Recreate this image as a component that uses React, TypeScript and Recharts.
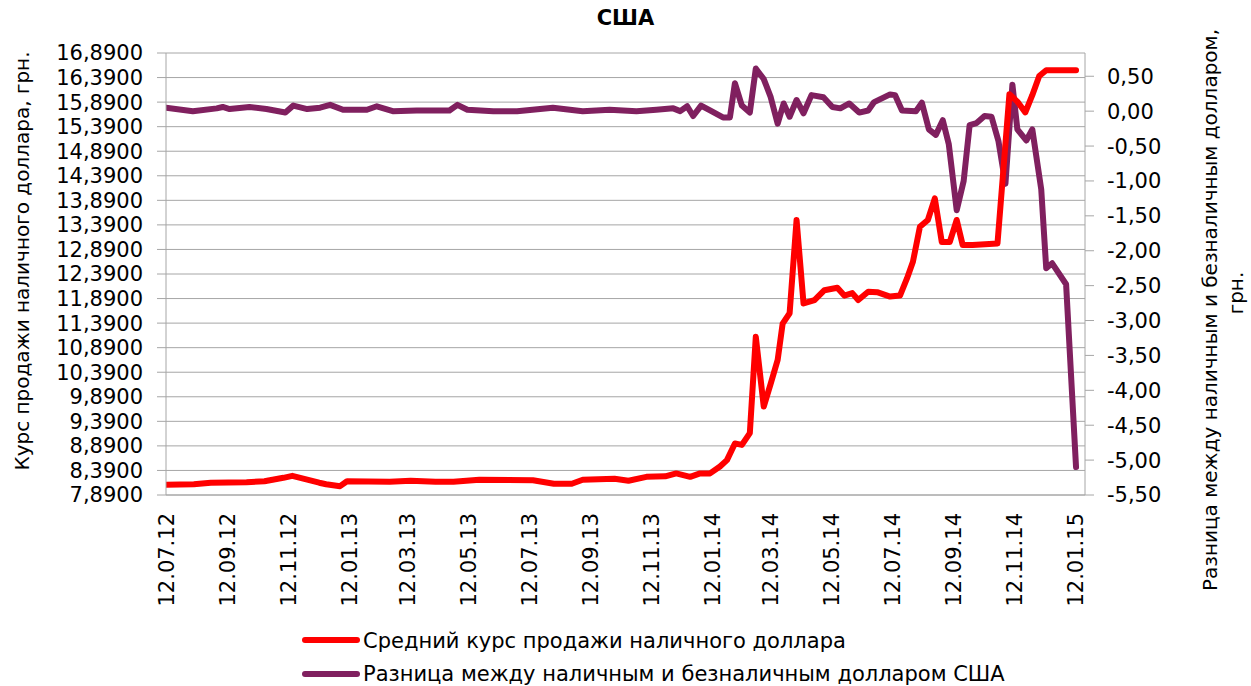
import React from 'react';
import { LineChart, Line, XAxis, YAxis, CartesianGrid, Legend } from 'recharts';

const FONT = "'DejaVu Sans', sans-serif";
const RED = '#FF0000';
const PURPLE = '#80205F';
const GRID = '#A6A6A6';

const chartTitle = 'США';
const leftAxisTitle = 'Курс продажи наличного доллара, грн.';
const rightAxisTitle1 = 'Разница между наличным и безналичным долларом,';
const rightAxisTitle2 = 'грн.';
const redName = 'Средний курс продажи наличного доллара';
const purpleName = 'Разница между наличным и безналичным долларом США';

const xTickLabels = [
  '12.07.12', '12.09.12', '12.11.12', '12.01.13', '12.03.13', '12.05.13', '12.07.13', '12.09.13',
  '12.11.13', '12.01.14', '12.03.14', '12.05.14', '12.07.14', '12.09.14', '12.11.14', '12.01.15',
];
const leftTicks = [7.89, 8.39, 8.89, 9.39, 9.89, 10.39, 10.89, 11.39, 11.89, 12.39, 12.89, 13.39, 13.89, 14.39, 14.89, 15.39, 15.89, 16.39, 16.89];
const rightTicks = [-5.5, -5, -4.5, -4, -3.5, -3, -2.5, -2, -1.5, -1, -0.5, 0, 0.5];

const redDates = [
  '2012-07-12', '2012-08-09', '2012-08-26', '2012-10-01', '2012-10-19', '2012-11-07', '2012-11-16', '2012-11-28',
  '2012-12-13', '2012-12-20', '2013-01-03', '2013-01-10', '2013-02-22', '2013-03-15', '2013-04-09', '2013-04-27',
  '2013-05-23', '2013-07-16', '2013-08-06', '2013-08-24', '2013-09-04', '2013-10-06', '2013-10-20', '2013-11-07',
  '2013-11-26', '2013-12-07', '2013-12-21', '2013-12-31', '2014-01-10', '2014-01-20', '2014-01-27', '2014-02-04',
  '2014-02-11', '2014-02-19', '2014-02-25', '2014-03-05', '2014-03-12', '2014-03-19', '2014-03-24', '2014-03-31',
  '2014-04-07', '2014-04-14', '2014-04-25', '2014-05-05', '2014-05-18', '2014-05-25', '2014-06-02', '2014-06-08',
  '2014-06-18', '2014-06-27', '2014-07-10', '2014-07-20', '2014-07-27', '2014-08-02', '2014-08-09', '2014-08-17',
  '2014-08-24', '2014-08-31', '2014-09-08', '2014-09-15', '2014-09-21', '2014-10-01', '2014-10-26', '2014-11-07',
  '2014-11-15', '2014-11-23', '2014-11-30', '2014-12-07', '2014-12-14', '2015-01-13',
];
const redValues = [
  8.10, 8.11, 8.14, 8.15, 8.17, 8.24, 8.28, 8.22,
  8.14, 8.11, 8.07, 8.17, 8.16, 8.18, 8.16, 8.16,
  8.20, 8.19, 8.12, 8.12, 8.20, 8.22, 8.18, 8.26,
  8.27, 8.33, 8.26, 8.33, 8.33, 8.47, 8.60, 8.94,
  8.91, 9.15, 11.11, 9.69, 10.16, 10.64, 11.38, 11.59,
  13.49, 11.79, 11.86, 12.06, 12.11, 11.95, 12.00, 11.86,
  12.03, 12.02, 11.93, 11.95, 12.30, 12.64, 13.35, 13.49,
  13.93, 13.04, 13.04, 13.49, 12.98, 12.98, 13.01, 16.05,
  15.90, 15.68, 16.03, 16.42, 16.54, 16.54,
];

const purpleDates = [
  '2012-07-12', '2012-08-08', '2012-09-01', '2012-09-07', '2012-09-14', '2012-10-04', '2012-10-21', '2012-11-09',
  '2012-11-17', '2012-12-01', '2012-12-14', '2012-12-24', '2013-01-06', '2013-01-30', '2013-02-09', '2013-02-25',
  '2013-03-21', '2013-04-23', '2013-05-01', '2013-05-11', '2013-06-06', '2013-06-30', '2013-08-05', '2013-09-04',
  '2013-10-01', '2013-10-28', '2013-11-17', '2013-12-04', '2013-12-11', '2013-12-18', '2013-12-24', '2014-01-01',
  '2014-01-10', '2014-01-23', '2014-01-30', '2014-02-04', '2014-02-11', '2014-02-19', '2014-02-25', '2014-03-05',
  '2014-03-12', '2014-03-19', '2014-03-25', '2014-03-31', '2014-04-07', '2014-04-14', '2014-04-22', '2014-05-04',
  '2014-05-13', '2014-05-21', '2014-05-30', '2014-06-09', '2014-06-18', '2014-06-24', '2014-07-10', '2014-07-15',
  '2014-07-22', '2014-08-05', '2014-08-11', '2014-08-18', '2014-08-25', '2014-09-01', '2014-09-07', '2014-09-15',
  '2014-09-22', '2014-09-28', '2014-10-05', '2014-10-13', '2014-10-20', '2014-10-27', '2014-11-03', '2014-11-10',
  '2014-11-15', '2014-11-24', '2014-11-30', '2014-12-09', '2014-12-14', '2014-12-20', '2015-01-03', '2015-01-13',
];
const purpleValues = [
  0.05, 0.00, 0.04, 0.06, 0.03, 0.06, 0.03, -0.02,
  0.08, 0.03, 0.05, 0.09, 0.02, 0.02, 0.07, 0.00,
  0.01, 0.01, 0.09, 0.02, 0.00, 0.00, 0.05, 0.00,
  0.02, 0.00, 0.02, 0.04, 0.00, 0.07, -0.07, 0.08,
  0.01, -0.09, -0.09, 0.40, 0.08, -0.02, 0.61, 0.46,
  0.20, -0.18, 0.11, -0.08, 0.16, -0.03, 0.23, 0.20,
  0.06, 0.04, 0.11, -0.02, 0.01, 0.13, 0.24, 0.23,
  0.01, 0.00, 0.12, -0.26, -0.34, -0.13, -0.47, -1.42,
  -1.00, -0.20, -0.17, -0.07, -0.08, -0.43, -1.04, 0.38,
  -0.26, -0.42, -0.26, -1.12, -2.25, -2.18, -2.48, -5.10,
];

const DAY = 86400000;
const ORIGIN = Date.UTC(2012, 6, 12);
const isoToDay = (s: string) => {
  const [y, m, d] = s.split('-').map(Number);
  return Math.round((Date.UTC(y, m - 1, d) - ORIGIN) / DAY);
};
const labelToDay = (s: string) => {
  const [d, m, y] = s.split('.').map(Number);
  return Math.round((Date.UTC(2000 + y, m - 1, d) - ORIGIN) / DAY);
};

const redData = redDates.map((d, i) => ({ day: isoToDay(d), value: redValues[i] }));
const purpleData = purpleDates.map((d, i) => ({ day: isoToDay(d), value: purpleValues[i] }));
const xTicks = xTickLabels.map(labelToDay);
const X_MAX = 924;

const fmtLeft = (v: number) => v.toFixed(4).replace('.', ',');
const fmtRight = (v: number) => (Math.abs(v) < 1e-9 ? 0 : v).toFixed(2).replace('.', ',');

const XTick = (props: any) => {
  const { x, payload } = props;
  const idx = xTicks.indexOf(payload.value);
  const label = idx >= 0 ? xTickLabels[idx] : '';
  const y = 513;
  return (
    <text
      x={x}
      y={y}
      transform={`rotate(-90, ${x}, ${y})`}
      textAnchor="end"
      dy="0.36em"
      fill="#000"
      fontSize={21}
      fontFamily={FONT}
    >
      {label}
    </text>
  );
};

const LegendContent = () => (
  <svg width={1251} height={64} style={{ display: 'block' }}>
    <line x1={305} y1={18} x2={357} y2={18} stroke={RED} strokeWidth={6} strokeLinecap="round" />
    <text x={363} y={19} dominantBaseline="central" fontSize={21} fontFamily={FONT} fill="#000">
      {redName}
    </text>
    <line x1={305} y1={52} x2={357} y2={52} stroke={PURPLE} strokeWidth={6} strokeLinecap="round" />
    <text x={363} y={52} dominantBaseline="central" fontSize={21} fontFamily={FONT} fill="#000">
      {purpleName}
    </text>
  </svg>
);

const LeftTitle = () => (
  <text
    x={22}
    y={261}
    transform="rotate(-90, 22, 261)"
    textAnchor="middle"
    dominantBaseline="central"
    fontSize={20}
    fontFamily={FONT}
    fill="#000"
  >
    {leftAxisTitle}
  </text>
);

const RightTitle = () => (
  <g>
    <text
      x={1210}
      y={310}
      transform="rotate(-90, 1210, 310)"
      textAnchor="middle"
      dominantBaseline="central"
      fontSize={20}
      fontFamily={FONT}
      fill="#000"
    >
      {rightAxisTitle1}
    </text>
    <text
      x={1236}
      y={293}
      transform="rotate(-90, 1236, 293)"
      textAnchor="middle"
      dominantBaseline="central"
      fontSize={20}
      fontFamily={FONT}
      fill="#000"
    >
      {rightAxisTitle2}
    </text>
  </g>
);

export default function App() {
  return (
    <div style={{ position: 'absolute', left: 0, top: 0, width: 1251, height: 686, background: '#fff', fontFamily: FONT }}>
      <div
        style={{
          position: 'absolute',
          left: 0,
          top: 6,
          width: 1251,
          textAlign: 'center',
          fontWeight: 'bold',
          fontSize: 21,
          fontFamily: FONT,
          color: '#000',
        }}
      >
        {chartTitle}
      </div>
      <LineChart width={1251} height={686} margin={{ top: 53, right: 0, bottom: 0, left: 0 }}>
        <CartesianGrid yAxisId="left" vertical={false} stroke={GRID} strokeWidth={1} />
        <XAxis
          dataKey="day"
          type="number"
          domain={[0, X_MAX]}
          ticks={xTicks}
          interval={0}
          allowDataOverflow
          height={191}
          axisLine={{ stroke: GRID }}
          tickLine={false}
          tick={<XTick />}
        />
        <YAxis
          yAxisId="left"
          orientation="left"
          width={166}
          domain={[7.89, 16.89]}
          ticks={leftTicks}
          interval={0}
          allowDataOverflow
          tickFormatter={fmtLeft}
          tickSize={9}
          tickMargin={14}
          axisLine={{ stroke: GRID }}
          tickLine={{ stroke: GRID }}
          tick={{ fill: '#000', fontSize: 21, fontFamily: FONT }}
          label={{ content: () => <LeftTitle /> }}
        />
        <YAxis
          yAxisId="right"
          orientation="right"
          width={166}
          domain={[-5.5, 0.8333]}
          ticks={rightTicks}
          interval={0}
          allowDataOverflow
          tickFormatter={fmtRight}
          tickSize={9}
          tickMargin={13}
          axisLine={{ stroke: GRID }}
          tickLine={{ stroke: GRID }}
          tick={{ fill: '#000', fontSize: 21, fontFamily: FONT }}
          label={{ content: () => <RightTitle /> }}
        />
        <Legend
          layout="vertical"
          align="center"
          verticalAlign="middle"
          wrapperStyle={{ left: 0, top: 622, width: 1251, height: 64 }}
          content={() => <LegendContent />}
        />
        <Line
          yAxisId="right"
          data={purpleData}
          dataKey="value"
          name={purpleName}
          stroke={PURPLE}
          strokeWidth={6}
          dot={false}
          activeDot={false}
          strokeLinejoin="round"
          strokeLinecap="round"
          isAnimationActive={false}
        />
        <Line
          yAxisId="left"
          data={redData}
          dataKey="value"
          name={redName}
          stroke={RED}
          strokeWidth={6}
          dot={false}
          activeDot={false}
          strokeLinejoin="round"
          strokeLinecap="round"
          isAnimationActive={false}
        />
      </LineChart>
    </div>
  );
}
